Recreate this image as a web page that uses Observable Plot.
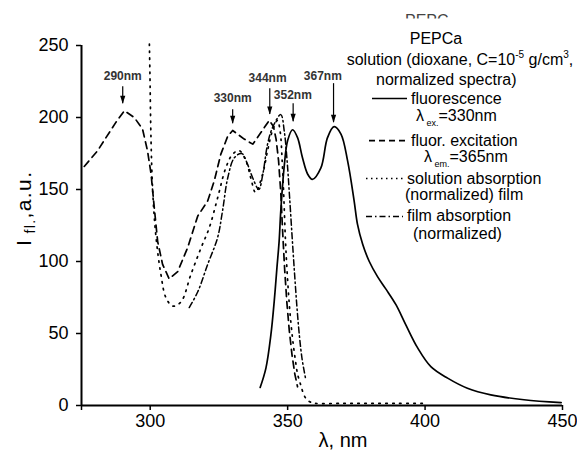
<!DOCTYPE html>
<html><head><meta charset="utf-8">
<script src="https://cdn.jsdelivr.net/npm/d3@7"></script>
<script src="https://cdn.jsdelivr.net/npm/@observablehq/plot@0.6"></script>
<style>
body{margin:0;background:#fff;}
#wrap{position:relative;width:577px;height:450px;}
</style></head><body><div id="wrap"></div>
<script>
// ---- data ----
const fluorNm  = [340, 342.1, 343.9, 345.1, 346.1, 346.9, 347.5, 348.7, 350, 351.8, 353.6, 355.4, 357.3, 359, 362.1, 364.5, 366.9, 369.4, 371.8, 374.2, 375.4, 377.3, 379.7, 382.7, 385.7, 389.4, 393, 397.3, 402.1, 408.2, 415.4, 423.9, 436, 449.5];
const fluorVal = [12.5, 26, 49, 72, 95.6, 114, 135, 165, 184, 191.5, 186, 172, 160.6, 157, 165, 186, 193.6, 188.5, 170, 142, 126, 112, 100, 89.5, 81, 70, 56, 40, 27, 19, 12, 7.4, 4, 2];

const excNm  = [276, 280.9, 283.9, 287.5, 290.6, 294.2, 297.2, 299, 300.3, 301.5, 302.7, 304.5, 306.9, 310, 313.6, 317.3, 320.9, 323.3, 325.7, 328.2, 330, 334.2, 337.3, 339, 341.5, 343.3, 344.8, 345.8, 346.7, 347.5, 348.2, 348.9, 349.7, 350.6, 351.6, 352.6, 353.6];
const excVal = [166, 177, 186, 196.6, 204.7, 200, 192, 177, 161, 137, 114, 98, 88, 93, 109.5, 131.6, 142, 156, 174.6, 187, 191, 185, 181.5, 186, 193, 198, 194, 185, 170, 148, 120, 95, 72, 52, 35, 22, 13];

const solAbsNm  = [299.7, 299.9, 300.3, 300.9, 302, 303.9, 305.7, 308.2, 311.2, 314.8, 318.5, 321.5, 324.5, 327.5, 330, 332.4, 334.8, 336.6, 338.3, 340.9, 342.7, 344.5, 346.3, 347.3, 348, 348.6, 349.2, 349.9, 350.7, 351.7, 352.7, 353.6, 354.8, 355.9, 357, 358.5, 360, 370, 380, 390, 400];
const solAbsVal = [251, 230, 184, 149, 119, 91, 75, 69, 72, 91, 109.5, 123.5, 144, 165, 174.6, 177, 170, 158, 148, 160.6, 177, 191, 198, 190, 170, 145, 115, 90, 68, 48, 33, 22, 14, 7.5, 4, 2.2, 1.5, 1.5, 1.5, 1.5, 1.5];

const filmAbsNm  = [314.2, 317.3, 320.9, 324.5, 326.3, 328.2, 330.6, 333.3, 335.4, 337.3, 339.5, 341, 342.7, 344.5, 347.5, 348.8, 349.8, 350.7, 351.6, 352.5, 353.4, 354.3, 355.2, 356, 356.6];
const filmAbsVal = [68, 79, 98, 116.5, 135, 158, 172, 175, 167.6, 158, 150, 161, 181.5, 193, 202, 190, 170, 145, 118, 92, 68, 48, 33, 24, 18];

// peak annotations
const annLabel   = ["290nm", "330nm", "344nm", "352nm", "367nm"];
const annNm      = [290, 330, 343.5, 352, 366.7];
const annTop     = [221.4, 205.4, 220, 209.6, 223.5];
const annTip     = [209.6, 195.7, 202, 197, 196.4];
const annTextNm  = [290, 330, 342.7, 351.9, 362.8];
const annTextVal = [228.6, 213.7, 227, 215.3, 229];

const xTicks = [275, 300, 350, 400, 450];
const yTicks = [0, 50, 100, 150, 200, 250];

// ---- build tables ----
const series = (nm, val) => nm.map((x, i) => ({x, y: val[i]}));
const fluor = series(fluorNm, fluorVal);
const exc = series(excNm, excVal);
const solAbs = series(solAbsNm, solAbsVal);
const filmAbs = series(filmAbsNm, filmAbsVal);
const ann = annLabel.map((t, i) => ({t, x: annNm[i], top: annTop[i], tip: annTip[i], tx: annTextNm[i], ty: annTextVal[i]}));

const FONT = "'Liberation Sans', Arial, sans-serif";
const downTri = {draw(ctx) { ctx.moveTo(0, 0); ctx.lineTo(-2.6, -8); ctx.lineTo(2.6, -8); ctx.closePath(); }};

const svg = Plot.plot({
  width: 577, height: 450,
  marginLeft: 81, marginRight: 15, marginTop: 45, marginBottom: 45,
  style: {fontFamily: FONT, background: "transparent", color: "black"},
  x: {domain: [275, 450], axis: null},
  y: {domain: [0, 250], axis: null},
  marks: [
    Plot.axisX({ticks: xTicks, tickFormat: d => d === 275 ? "" : d, tickSize: 5, tickPadding: 4, fontSize: 18, strokeWidth: 1.5, label: null}),
    Plot.axisY({ticks: yTicks, tickSize: 5, tickPadding: 8, fontSize: 18, strokeWidth: 1.5, label: null}),
    Plot.ruleY([0], {stroke: "black", strokeWidth: 2}),
    Plot.ruleX([275], {stroke: "black", strokeWidth: 2}),
    Plot.line(exc, {x: "x", y: "y", stroke: "black", strokeWidth: 1.7, strokeDasharray: "7,5"}),
    Plot.line(solAbs, {x: "x", y: "y", stroke: "black", strokeWidth: 1.7, strokeDasharray: "1.5,5.5", curve: "catmull-rom"}),
    Plot.line(filmAbs, {x: "x", y: "y", stroke: "black", strokeWidth: 1.5, strokeDasharray: "6,3,1.5,3", curve: "catmull-rom"}),
    Plot.line(fluor, {x: "x", y: "y", stroke: "black", strokeWidth: 1.7, curve: "catmull-rom"}),
    Plot.ruleX(ann, {x: "x", y1: "top", y2: "tip", stroke: "black", strokeWidth: 1.2}),
    Plot.dot(ann, {x: "x", y: "tip", symbol: downTri, fill: "black", stroke: null}),
    Plot.text(ann, {x: "tx", y: "ty", text: "t", fontSize: 12, fontWeight: "bold", fill: "#333"})
  ]
});
document.getElementById("wrap").appendChild(svg);

// ---- text overlays: title, legend, axis labels ----
const root = d3.select(svg);
const g = root.append("g").attr("font-family", FONT).attr("fill", "black");
function txt(x, y, size, anchor, parts) {
  const t = g.append("text").attr("x", x).attr("y", y).attr("font-size", size).attr("text-anchor", anchor);
  parts.forEach(p => {
    const s = t.append("tspan").text(p.t);
    if (p.size) s.attr("font-size", p.size);
    if (p.dy) s.attr("dy", p.dy);
  });
  return t;
}
// clipped heading at the very top
root.append("clipPath").attr("id", "topclip").append("rect").attr("x", 0).attr("y", 0).attr("width", 577).attr("height", 18.5);
g.append("text").attr("x", 405).attr("y", 25.5).attr("font-size", 16).attr("text-anchor", "start").attr("fill", "#444").attr("clip-path", "url(#topclip)").text("PEPC");

txt(436, 44, 16, "middle", [{t: "PEPCa"}]);
txt(460, 65, 16, "middle", [{t: "solution (dioxane, C=10"}, {t: "-5", size: 10, dy: -7}, {t: " g/cm", dy: 7}, {t: "3", size: 10, dy: -7}, {t: ",", dy: 7}]);
txt(376, 85, 16, "start", [{t: "normalized spectra)"}]);

g.append("line").attr("x1", 372).attr("x2", 407).attr("y1", 98.5).attr("y2", 98.5).attr("stroke", "black").attr("stroke-width", 1.7);
txt(411, 104, 16, "start", [{t: "fluorescence"}]);
txt(416, 121, 16, "start", [{t: "λ"}, {t: " ex.", size: 9, dy: 5}, {t: "=330nm", dy: -5}]);

g.append("line").attr("x1", 369).attr("x2", 407).attr("y1", 140.7).attr("y2", 140.7).attr("stroke", "black").attr("stroke-width", 1.7).attr("stroke-dasharray", "6,4");
txt(411, 145.5, 16, "start", [{t: "fluor. excitation"}]);
txt(424, 161.5, 16, "start", [{t: "λ"}, {t: " em.", size: 9, dy: 5}, {t: "=365nm", dy: -5}]);

g.append("line").attr("x1", 366).attr("x2", 405).attr("y1", 178.5).attr("y2", 178.5).attr("stroke", "black").attr("stroke-width", 1.5).attr("stroke-dasharray", "1.5,3.5");
txt(407, 183.5, 16, "start", [{t: "solution absorption"}]);
txt(405, 199.5, 16, "start", [{t: "(normalized)"}, {t: " film"}]);

g.append("line").attr("x1", 366).attr("x2", 403).attr("y1", 216.5).attr("y2", 216.5).attr("stroke", "black").attr("stroke-width", 1.5).attr("stroke-dasharray", "6,3,1.5,3");
txt(407, 221, 16, "start", [{t: "film absorption"}]);
txt(413, 239, 16, "start", [{t: "(normalized)"}]);

// axis titles
txt(343, 447, 20, "middle", [{t: "λ, nm"}]);
const yl = g.append("text").attr("transform", "translate(31,209) rotate(-90)").attr("text-anchor", "middle").attr("font-size", 21)
  .attr("textLength", 74).attr("lengthAdjust", "spacing");
yl.append("tspan").text("I");
yl.append("tspan").text(" fl.").attr("font-size", 14).attr("dy", 4);
yl.append("tspan").text(",a.u.").attr("dy", -4);
</script>
</body></html>
